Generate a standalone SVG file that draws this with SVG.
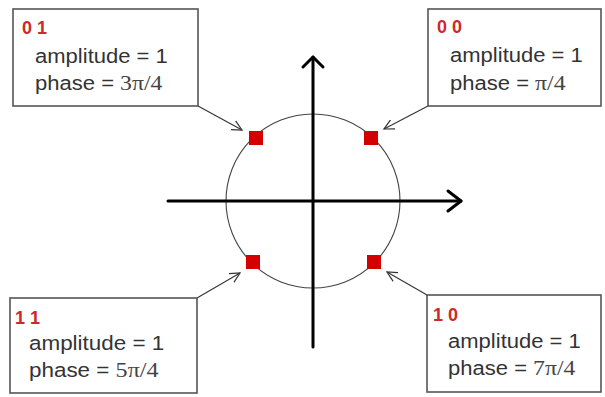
<svg xmlns="http://www.w3.org/2000/svg" width="605" height="397" viewBox="0 0 605 397">
<defs>
<style>
.box{fill:#fff;stroke:#555;stroke-width:1.6}
.t{font-family:"Liberation Sans",Arial,sans-serif;font-size:19.5px;fill:#333}
.s{font-family:"Liberation Serif","Times New Roman",serif;font-size:21px;fill:#444}
.lab{font-family:"Liberation Sans",Arial,sans-serif;font-size:18px;font-weight:bold;fill:#cc2a2a}
.axis{stroke:#000;stroke-width:3;fill:none;stroke-linecap:round;stroke-linejoin:round}
.conn{stroke:#333;stroke-width:1.1;fill:none}
.pt{fill:#d40000}
</style>
<marker id="ah" markerWidth="12" markerHeight="12" refX="10" refY="5" orient="auto" markerUnits="userSpaceOnUse" viewBox="0 0 12 10">
<path d="M0,0 L10,5 L0,10" fill="none" stroke="#333" stroke-width="1.2"/>
</marker>
</defs>
<rect width="605" height="397" fill="#fff"/>

<g id="axes">
<circle cx="313" cy="201" r="87" fill="none" stroke="#444" stroke-width="1.1"/>
<line class="axis" x1="313" y1="347" x2="313" y2="57"/>
<polyline class="axis" points="303,67 313,57 323,67"/>
<line class="axis" x1="168" y1="201" x2="461" y2="201"/>
<polyline class="axis" points="448,191 461,201 448,211"/>
</g>

<g id="points">
<rect class="pt" x="249" y="131" width="14" height="14"/>
<rect class="pt" x="364" y="131" width="14" height="14"/>
<rect class="pt" x="246" y="255" width="14" height="14"/>
<rect class="pt" x="367" y="255" width="14" height="14"/>
</g>

<g id="connectors">
<line class="conn" x1="198" y1="106" x2="242" y2="130" marker-end="url(#ah)"/>
<line class="conn" x1="428" y1="106" x2="384" y2="129" marker-end="url(#ah)"/>
<line class="conn" x1="197" y1="298" x2="240" y2="273" marker-end="url(#ah)"/>
<line class="conn" x1="427" y1="295" x2="387" y2="272" marker-end="url(#ah)"/>
</g>

<g id="node-01">
<rect class="box" x="13" y="9" width="185" height="97"/>
<text class="lab" x="22" y="34">0 1</text>
<text class="t" transform="translate(35,63) scale(1.13,1)">amplitude = 1</text>
<text class="t" transform="translate(35,90) scale(1.13,1)">phase = <tspan class="s">3π/4</tspan></text>
</g>

<g id="node-00">
<rect class="box" x="428" y="9" width="173" height="97"/>
<text class="lab" x="437" y="33">0 0</text>
<text class="t" transform="translate(450,62) scale(1.13,1)">amplitude = 1</text>
<text class="t" transform="translate(450,90) scale(1.13,1)">phase = <tspan class="s">π/4</tspan></text>
</g>

<g id="node-11">
<rect class="box" x="10" y="298" width="187" height="95"/>
<text class="lab" x="15" y="324">1 1</text>
<text class="t" transform="translate(29,350) scale(1.15,1)">amplitude = 1</text>
<text class="t" transform="translate(29,377) scale(1.15,1)">phase = <tspan class="s">5π/4</tspan></text>
</g>

<g id="node-10">
<rect class="box" x="427" y="295" width="174" height="97"/>
<text class="lab" x="433" y="321">1 0</text>
<text class="t" transform="translate(448,348) scale(1.13,1)">amplitude = 1</text>
<text class="t" transform="translate(448,375) scale(1.13,1)">phase = <tspan class="s">7π/4</tspan></text>
</g>
</svg>
